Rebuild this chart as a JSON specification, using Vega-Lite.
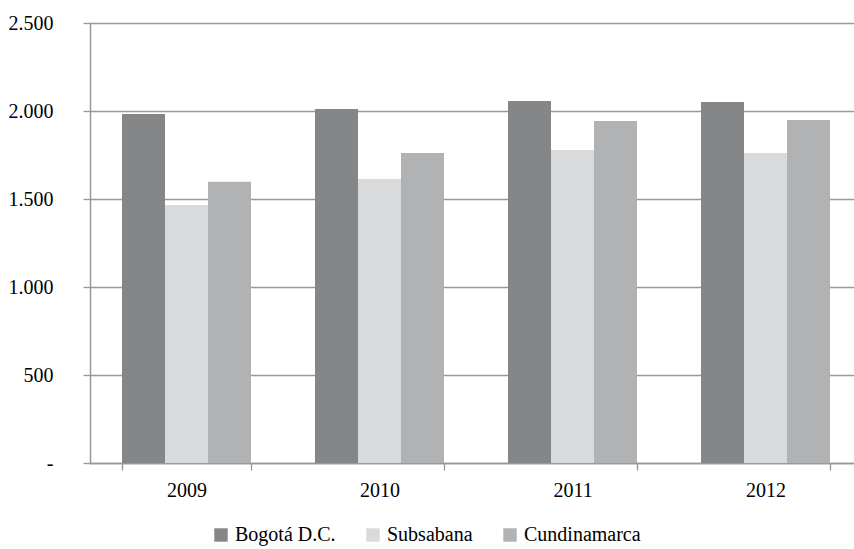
{
  "$schema": "https://vega.github.io/schema/vega-lite/v6.json",
  "width": 772,
  "height": 440,
  "autosize": {"type": "none"},
  "padding": {"left": 90, "top": 23, "right": 0, "bottom": 86},
  "background": "white",
  "data": {
    "values": [
      {"year": "2009", "region": "Bogotá D.C.", "value": 1983},
      {"year": "2009", "region": "Subsabana", "value": 1466},
      {"year": "2009", "region": "Cundinamarca", "value": 1598},
      {"year": "2010", "region": "Bogotá D.C.", "value": 2011},
      {"year": "2010", "region": "Subsabana", "value": 1614},
      {"year": "2010", "region": "Cundinamarca", "value": 1761},
      {"year": "2011", "region": "Bogotá D.C.", "value": 2057},
      {"year": "2011", "region": "Subsabana", "value": 1778},
      {"year": "2011", "region": "Cundinamarca", "value": 1943},
      {"year": "2012", "region": "Bogotá D.C.", "value": 2051},
      {"year": "2012", "region": "Subsabana", "value": 1761},
      {"year": "2012", "region": "Cundinamarca", "value": 1949}
    ]
  },
  "mark": {"type": "bar"},
  "encoding": {
    "x": {
      "field": "year",
      "type": "nominal",
      "scale": {"paddingInner": 0.3316, "paddingOuter": 0.1658},
      "axis": {
        "title": null,
        "labelAngle": 0,
        "tickBand": "extent",
        "tickSize": 7,
        "tickColor": "#999999",
        "tickWidth": 1.3,
        "domainColor": "#999999",
        "domainWidth": 1.5,
        "labelPadding": 10,
        "labelFont": "Liberation Serif",
        "labelFontSize": 20,
        "labelColor": "#000000"
      }
    },
    "xOffset": {
      "field": "region",
      "type": "nominal",
      "sort": ["Bogotá D.C.", "Subsabana", "Cundinamarca"],
      "scale": {"paddingInner": 0, "paddingOuter": 0}
    },
    "y": {
      "field": "value",
      "type": "quantitative",
      "scale": {"domain": [0, 2500], "nice": false},
      "axis": {
        "title": null,
        "values": [0, 500, 1000, 1500, 2000, 2500],
        "labelExpr": "datum.value == 0 ? '-' : replace(format(datum.value, ','), ',', '.')",
        "grid": true,
        "gridColor": "#999999",
        "gridWidth": 1.5,
        "tickSize": 7,
        "tickColor": "#999999",
        "tickWidth": 1.3,
        "domainColor": "#999999",
        "domainWidth": 1.5,
        "labelPadding": 30,
        "labelFont": "Liberation Serif",
        "labelFontSize": 20,
        "labelColor": "#000000"
      }
    },
    "color": {
      "field": "region",
      "type": "nominal",
      "sort": ["Bogotá D.C.", "Subsabana", "Cundinamarca"],
      "scale": {
        "domain": ["Bogotá D.C.", "Subsabana", "Cundinamarca"],
        "range": ["#858688", "#d9dadb", "#b1b2b3"]
      },
      "legend": {
        "title": null,
        "orient": "none",
        "direction": "horizontal",
        "legendX": 121,
        "legendY": 502,
        "symbolType": "square",
        "symbolSize": 180,
        "symbolStrokeWidth": 0,
        "labelFont": "Liberation Serif",
        "labelFontSize": 20,
        "labelColor": "#000000",
        "labelOffset": 4,
        "columnPadding": 27,
        "gridAlign": "none"
      }
    }
  },
  "config": {
    "view": {"stroke": null},
    "axis": {"domainCap": "square"}
  }
}
